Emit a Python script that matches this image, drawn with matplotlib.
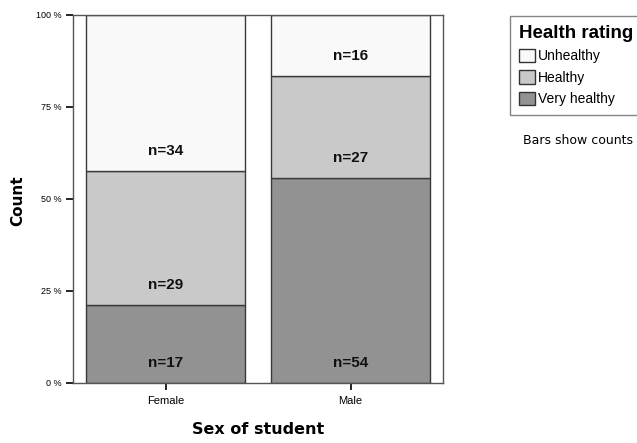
import numpy as np
import matplotlib
matplotlib.use("Agg")
import matplotlib.pyplot as plt
from matplotlib.patches import Patch
import matplotlib.transforms as mtransforms

# counts per sex, stacked bottom -> top
sexes = ["Female", "Male"]
ratings = ["Very healthy", "Healthy", "Unhealthy"]
very_healthy = [17, 54]
healthy = [29, 27]
unhealthy = [34, 16]
colors = {"Very healthy": "#929292", "Healthy": "#c9c9c9", "Unhealthy": "#f9f9f9"}
ytick_labels = ["0 %", "25 %", "50 %", "75 %", "100 %"]

plt.rcParams["font.family"] = ["Liberation Sans", "DejaVu Sans"]

fig = plt.figure(figsize=(6.37, 4.43), dpi=100)
ax = fig.add_axes([73 / 637, 1 - 383 / 443, 370 / 637, 368 / 443])

counts = np.array([very_healthy, healthy, unhealthy], dtype=float)
totals = counts.sum(axis=0)
pct = counts / totals * 100
x = np.arange(len(sexes))
bottom = np.zeros(len(sexes))

# labels sit ~20 px above the bottom of each segment
offset = mtransforms.offset_copy(ax.transData, fig=fig, x=0, y=14.5, units="points")

for i, r in enumerate(ratings):
    ax.bar(x, pct[i], bottom=bottom, width=0.855, color=colors[r],
           edgecolor="#3a3a3a", linewidth=1.0, zorder=2)
    for j in range(len(sexes)):
        ax.text(x[j], bottom[j], "n=%d" % counts[i, j], transform=offset,
                ha="center", va="center", fontsize=11, fontweight="bold", color="#111111")
    bottom += pct[i]

ax.set_xlim(-0.5, 1.5)
ax.set_ylim(0, 100)
ax.set_yticks([0, 25, 50, 75, 100])
ax.set_yticklabels(ytick_labels, fontsize=6.5)
ax.set_xticks(x)
ax.set_xticklabels(sexes, fontsize=8)
ax.tick_params(axis="y", direction="out", length=5, width=1.2, pad=3)
ax.tick_params(axis="x", direction="out", length=5, width=1.2, pad=4)
for s in ax.spines.values():
    s.set_color("#555555")
    s.set_linewidth(1.0)

ax.set_xlabel("Sex of student", fontsize=11.5, fontweight="bold", family="DejaVu Sans", labelpad=12)
fig.text(18 / 637, 1 - 201 / 443, "Count", rotation=90, fontsize=11, fontweight="bold",
         family="DejaVu Sans", ha="center", va="center")

handles = [Patch(facecolor=colors[r], edgecolor="#333333", linewidth=1.0) for r in ratings[::-1]]
leg = fig.legend(handles, ratings[::-1], title="Health rating", loc="upper left",
                 bbox_to_anchor=(510 / 637, 1 - 16 / 443), fontsize=10,
                 title_fontproperties={"weight": "bold", "size": 13.5},
                 alignment="left", frameon=True, fancybox=False, edgecolor="#666666",
                 handlelength=1.15, handleheight=1.1, handletextpad=0.2,
                 labelspacing=0.5, borderpad=0.65, borderaxespad=0)
leg.get_frame().set_linewidth(1.0)

fig.text(523 / 637, 1 - 141 / 443, "Bars show counts", fontsize=9, va="center", ha="left",
         family="DejaVu Sans")

fig.savefig("out.png", dpi=100)
